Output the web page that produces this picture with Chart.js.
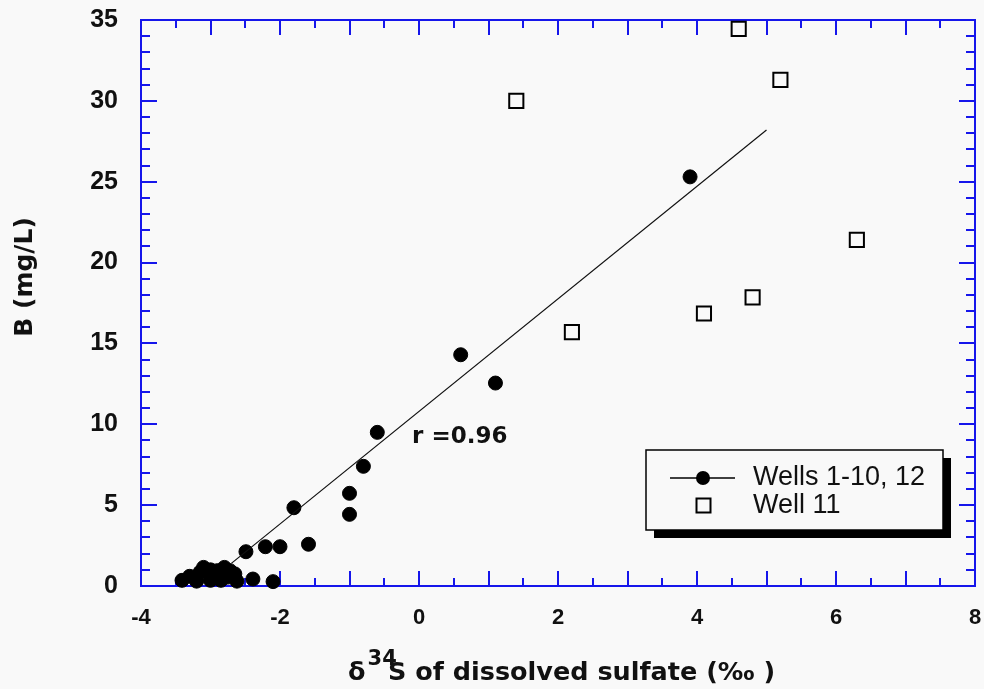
<!DOCTYPE html>
<html>
<head>
<meta charset="utf-8">
<script src="https://cdn.jsdelivr.net/npm/chart.js@4/dist/chart.umd.min.js"></script>
<style>
html,body{margin:0;padding:0;background:#f9f9f9;}
canvas{display:block;}
</style>
</head>
<body>
<canvas id="c" width="984" height="689"></canvas>
<script>
// ---------- data ----------
const wellsLabel = 'Wells 1-10, 12';
const wellsX = [-3.41, -3.3, -3.2, -3.15, -3.1, -3.0, -3.0, -2.95, -2.9, -2.85, -2.8, -2.75, -2.72, -2.65, -2.62, -2.39, -2.1,
                -2.49, -2.21, -2.0, -1.59, -1.8, -1.0, -1.0, -0.8, -0.6, 0.6, 1.1, 3.9];
const wellsY = [0.35, 0.6, 0.3, 0.85, 1.15, 0.35, 1.0, 0.7, 0.95, 0.35, 1.15, 0.55, 0.95, 0.75, 0.3, 0.43, 0.27,
                2.12, 2.43, 2.43, 2.58, 4.84, 4.43, 5.73, 7.4, 9.5, 14.3, 12.55, 25.3];

const well11Label = 'Well 11';
const well11X = [1.4, 2.2, 4.1, 4.6, 4.8, 5.2, 6.3];
const well11Y = [30.0, 15.7, 16.85, 34.45, 17.85, 31.3, 21.4];

const fitX = [-2.7, 5.0];
const fitY = [1.4, 28.2];

const xTickValues = [-4, -2, 0, 2, 4, 6, 8];
const xTickLabels = ['-4', '-2', '0', '2', '4', '6', '8'];
const yTickValues = [0, 5, 10, 15, 20, 25, 30, 35];
const yTickLabels = ['0', '5', '10', '15', '20', '25', '30', '35'];

const yTitle = 'B (mg/L)';
const xTitleSymbol = 'δ';
const xTitleSup = '34';
const xTitleRest = 'S of dissolved sulfate (‰ )';
const rLabel = 'r =0.96';
const rLabelAt = [-0.1, 8.85];

// ---------- styles ----------
const AXIS_BLUE = 'rgb(22,22,235)';
const INK = '#111';

const toPts = (xs, ys) => xs.map((v, i) => ({x: v, y: ys[i]}));

const framePlugin = {
  id: 'frame',
  beforeDatasetsDraw(chart) {
    const {ctx, chartArea: a, scales: {x, y}} = chart;
    ctx.save();
    ctx.strokeStyle = AXIS_BLUE;
    ctx.lineWidth = 2;
    ctx.lineCap = 'butt';
    ctx.strokeRect(a.left, a.top, a.right - a.left, a.bottom - a.top);
    ctx.beginPath();
    for (let v = x.min + 0.5; v < x.max; v += 0.5) {
      const px = Math.round(x.getPixelForValue(v));
      const len = Number.isInteger(v) ? 15 : 8;
      ctx.moveTo(px, a.bottom); ctx.lineTo(px, a.bottom - len);
      ctx.moveTo(px, a.top); ctx.lineTo(px, a.top + len);
    }
    for (let v = y.min + 1; v < y.max; v += 1) {
      const py = Math.round(y.getPixelForValue(v));
      const len = (v % 5 === 0) ? 16 : 9;
      ctx.moveTo(a.left, py); ctx.lineTo(a.left + len, py);
      ctx.moveTo(a.right, py); ctx.lineTo(a.right - len, py);
    }
    ctx.stroke();
    ctx.restore();
  }
};

const overlayPlugin = {
  id: 'overlay',
  afterDraw(chart) {
    const {ctx, chartArea: a, scales: {x, y}} = chart;
    ctx.save();
    ctx.fillStyle = INK;

    // y axis title
    ctx.save();
    ctx.translate(32, 277);
    ctx.rotate(-Math.PI / 2);
    ctx.font = 'bold 25px "DejaVu Sans"';
    ctx.textAlign = 'center';
    ctx.textBaseline = 'alphabetic';
    ctx.fillText(yTitle, 0, 0);
    ctx.restore();

    // x axis title with superscript
    const base = 680;
    ctx.textAlign = 'left';
    ctx.textBaseline = 'alphabetic';
    ctx.font = 'bold 25.5px "DejaVu Sans"';
    const wSym = ctx.measureText(xTitleSymbol).width;
    let sx = 348;
    ctx.fillText(xTitleSymbol, sx, base);
    sx += wSym + 2;
    ctx.font = 'bold 21px "DejaVu Sans"';
    ctx.fillText(xTitleSup, sx, base - 15);
    sx = 388;
    ctx.font = 'bold 25.5px "DejaVu Sans"';
    ctx.fillText(xTitleRest, sx, base);

    // r label
    ctx.font = 'bold 23px "DejaVu Sans"';
    ctx.fillText(rLabel, x.getPixelForValue(rLabelAt[0]), y.getPixelForValue(rLabelAt[1]));

    // legend box with shadow
    const L = 646, T = 450, W = 297, H = 80;
    ctx.fillStyle = '#000';
    ctx.fillRect(L + 8, T + 8, W, H);
    ctx.fillStyle = '#f9f9f9';
    ctx.fillRect(L, T, W, H);
    ctx.strokeStyle = '#000';
    ctx.lineWidth = 1.5;
    ctx.strokeRect(L, T, W, H);

    // legend entry 1
    ctx.beginPath();
    ctx.moveTo(670, 478); ctx.lineTo(735, 478);
    ctx.lineWidth = 1.5;
    ctx.stroke();
    ctx.beginPath();
    ctx.arc(703, 478, 7, 0, Math.PI * 2);
    ctx.fillStyle = '#000';
    ctx.fill();
    // legend entry 2
    ctx.lineWidth = 2;
    ctx.strokeRect(696.5, 498.5, 14, 14);

    ctx.fillStyle = INK;
    ctx.font = '27px "Liberation Sans"';
    ctx.fillText(wellsLabel, 753, 485);
    ctx.fillText(well11Label, 753, 513);
    ctx.restore();
  }
};

new Chart(document.getElementById('c'), {
  type: 'scatter',
  data: {
    datasets: [
      {
        label: 'fit',
        type: 'line',
        data: toPts(fitX, fitY),
        borderColor: '#111',
        borderWidth: 1.2,
        pointRadius: 0,
        fill: false,
        clip: false
      },
      {
        label: wellsLabel,
        data: toPts(wellsX, wellsY),
        pointStyle: 'circle',
        pointRadius: 7,
        backgroundColor: '#000',
        borderColor: '#000',
        borderWidth: 1,
        clip: false
      },
      {
        label: well11Label,
        data: toPts(well11X, well11Y),
        pointStyle: 'rect',
        pointRadius: 10,
        backgroundColor: '#f9f9f9',
        borderColor: '#000',
        borderWidth: 2,
        clip: false
      }
    ]
  },
  options: {
    responsive: false,
    animation: false,
    events: [],
    layout: {autoPadding: false, padding: {left: 0, right: 9, top: 20, bottom: 0}},
    plugins: {legend: {display: false}, tooltip: {enabled: false}, title: {display: false}},
    scales: {
      x: {
        type: 'linear', min: -4, max: 8,
        grid: {display: false, drawTicks: false},
        border: {display: false},
        afterFit: s => { s.height = 103; s.paddingLeft = 0; s.paddingRight = 0; },
        afterBuildTicks: s => { s.ticks = xTickValues.map(v => ({value: v})); },
        ticks: {
          padding: 19,
          color: INK,
          font: {family: '"Liberation Sans", Arial', size: 22, weight: 'bold'},
          maxRotation: 0,
          callback: (v, i) => xTickLabels[i]
        }
      },
      y: {
        type: 'linear', min: 0, max: 35,
        grid: {display: false, drawTicks: false},
        border: {display: false},
        afterFit: s => { s.width = 141; s.paddingTop = 0; s.paddingBottom = 0; },
        afterBuildTicks: s => { s.ticks = yTickValues.map(v => ({value: v})); },
        ticks: {
          padding: 23,
          color: INK,
          font: {family: '"Liberation Sans", Arial', size: 25, weight: 'bold'},
          callback: (v, i) => yTickLabels[i]
        }
      }
    }
  },
  plugins: [framePlugin, overlayPlugin]
});
</script>
</body>
</html>
